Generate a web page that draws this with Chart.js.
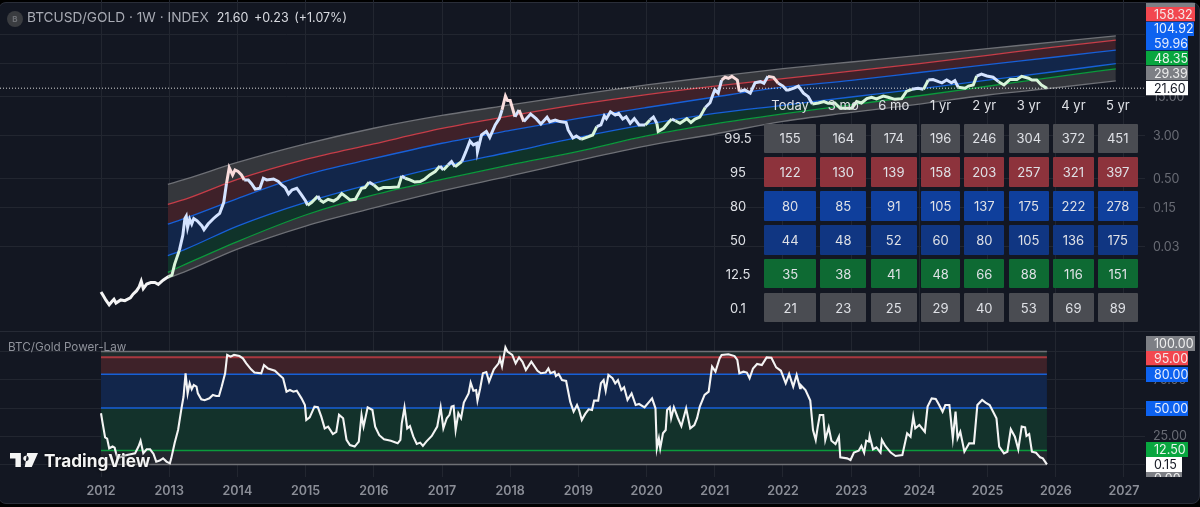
<!DOCTYPE html>
<html>
<head>
<meta charset="utf-8">
<title>BTCUSD/GOLD</title>
<script src="https://cdn.jsdelivr.net/npm/chart.js@4"></script>
<style>
    html, body { margin: 0; padding: 0; width: 1200px; height: 507px; background: #000; overflow: hidden; font-family: Inter, "Noto Sans", sans-serif; }
    #panel { position: absolute; left: -2px; top: 2px; width: 1200px; height: 500px; background: #131722; border: 1px solid #2a2e39; border-radius: 8px; }
    canvas { position: absolute; left: 0; }
    #priceChart { top: 0; }
    #oscChart { top: 331px; }
    #separator { position: absolute; left: 0; top: 331px; width: 1198px; height: 1px; background: #262a35; }
    #header { position: absolute; left: 7px; top: 8px; height: 18px; line-height: 18px; font-size: 13.7px; color: #a8abb4; white-space: nowrap; }
    #header .icon { display: inline-block; width: 16px; height: 16px; line-height: 16px; border-radius: 50%; background: #3a3c40; color: #6d6f74; font-size: 8px; font-weight: 700; text-align: center; margin-right: 4px; vertical-align: 0; }
    #header .last { color: #d8dae0; margin-left: 4px; font-size: 12.5px; word-spacing: 2px; }
    #oscTitle { position: absolute; left: 8px; top: 340px; font-size: 11.7px; color: #8f929b; }
    #logo { position: absolute; left: 10px; top: 451px; color: #f4f4f4; font-size: 17.2px; font-weight: 700; line-height: 20px; white-space: nowrap; text-shadow: 0 0 3px #000; }
    #logo svg { position: absolute; left: 0; top: 2px; }
    #logo span { position: absolute; left: 34px; top: 0; }
    #table { position: absolute; left: 716px; top: 91px; display: grid; grid-template-columns: 44px 51.7px 46px 46.4px 38.7px 40px 40.4px 40.4px 39.7px; grid-template-rows: 28px repeat(6, 29.4px); column-gap: 4.3px; row-gap: 4.5px; font-size: 13px; color: #dfe1e6; }
    #table div { display: flex; align-items: center; justify-content: center; border-radius: 1px; }
</style>
</head>
<body>
<div id="panel"></div>
<canvas id="priceChart" width="1200" height="331"></canvas>
<canvas id="oscChart" width="1200" height="176"></canvas>
<div id="separator"></div>
<div id="header"><span class="icon">B</span>BTCUSD/GOLD · 1W · INDEX <span class="last">21.60 +0.23 (+1.07%)</span></div>
<div id="oscTitle">BTC/Gold Power-Law</div>
<div id="logo">
    <svg width="28" height="14" viewBox="0 0 36 18"><path fill="#f4f4f4" d="M0 0h14v18H7V7H0zM22 0h14l-8 18h-9zM17 7a3.5 3.5 0 1 0 0-.01z"/></svg>
    <span>TradingView</span>
</div>
<div id="table"></div>

<script>
// years shown on the time axis
const yearTicks = [2012, 2013, 2014, 2015, 2016, 2017, 2018, 2019, 2020, 2021, 2022, 2023, 2024, 2025, 2026, 2027];

// power-law bands of the top pane
const bandYears = [2012.98, 2013.25, 2014, 2015, 2016, 2017, 2018, 2019, 2020, 2021, 2022, 2023, 2024, 2025, 2026, 2026.88];
const band995 = [0.40, 0.50, 0.99, 2.14, 4.10, 6.97, 10.8, 16.6, 24.7, 35, 48.5, 64, 84.5, 112, 148, 190];
const band95 = [0.174, 0.218, 0.49, 1.125, 2.14, 4.06, 6.83, 11, 16.6, 23.6, 32, 44, 60, 84.5, 120, 158.32];
const band80 = [0.0769, 0.0995, 0.222, 0.591, 1.17, 2.2, 3.74, 6.15, 9.7, 15, 22.5, 30, 41.4, 57.2, 78.8, 104.92];
const band50 = [0.0208, 0.0275, 0.0708, 0.19, 0.415, 0.84, 1.53, 2.8, 4.8, 7.57, 10.6, 15, 21, 30.3, 43.2, 59.96];
const band125 = [0.0104, 0.0147, 0.0372, 0.112, 0.258, 0.49, 0.895, 1.57, 2.98, 4.9, 7.42, 10.8, 15.8, 23.4, 34.7, 48.35];
const band01 = [0.0081, 0.0109, 0.0272, 0.0708, 0.15, 0.304, 0.567, 1.08, 1.97, 3.23, 5.45, 7.9, 11.2, 16.3, 22, 29.39];

// BTCUSD/GOLD weekly close
const priceYears = [
    2012.00, 2012.03, 2012.07, 2012.12, 2012.16, 2012.19, 2012.22, 2012.29, 2012.35, 2012.43, 2012.47, 2012.52, 2012.56, 2012.59, 2012.62, 2012.67, 2012.73, 2012.79, 2012.84, 2012.91, 2012.99,
    2013.04, 2013.08, 2013.15, 2013.20, 2013.23, 2013.25, 2013.27, 2013.30, 2013.33, 2013.36, 2013.41, 2013.48, 2013.51, 2013.57, 2013.65, 2013.69, 2013.74, 2013.80, 2013.84, 2013.88, 2013.93, 2013.965,
    2014.01, 2014.06, 2014.10, 2014.16, 2014.21, 2014.26, 2014.33, 2014.38, 2014.43, 2014.53, 2014.60, 2014.65, 2014.70, 2014.75, 2014.80, 2014.87, 2014.94,
    2015.00, 2015.03, 2015.09, 2015.18, 2015.21, 2015.26, 2015.33, 2015.41, 2015.47, 2015.53, 2015.59, 2015.65, 2015.73, 2015.82, 2015.87, 2015.93,
    2016.00, 2016.07, 2016.14, 2016.24, 2016.36, 2016.41, 2016.46, 2016.53, 2016.60, 2016.68, 2016.75, 2016.82, 2016.90, 2016.97,
    2017.02, 2017.09, 2017.14, 2017.19, 2017.29, 2017.35, 2017.41, 2017.46, 2017.51, 2017.52, 2017.58, 2017.65, 2017.70, 2017.78, 2017.84, 2017.88, 2017.93, 2017.96,
    2018.00, 2018.07, 2018.13, 2018.20, 2018.30, 2018.38, 2018.45, 2018.54, 2018.58, 2018.66, 2018.73, 2018.82, 2018.85, 2018.92, 2018.97,
    2019.04, 2019.15, 2019.21, 2019.27, 2019.33, 2019.38, 2019.41, 2019.47, 2019.54, 2019.59, 2019.65, 2019.70, 2019.76, 2019.82, 2019.89, 2019.98,
    2020.05, 2020.10, 2020.15, 2020.17, 2020.25, 2020.32, 2020.37, 2020.42, 2020.49, 2020.59, 2020.65, 2020.71, 2020.78, 2020.86, 2020.93, 2020.97,
    2021.00, 2021.05, 2021.10, 2021.15, 2021.20, 2021.25, 2021.33, 2021.36, 2021.44, 2021.52, 2021.59, 2021.67, 2021.72, 2021.78, 2021.86, 2021.93,
    2022.00, 2022.05, 2022.08, 2022.16, 2022.225, 2022.30, 2022.37, 2022.43, 2022.52, 2022.60, 2022.66, 2022.76, 2022.84,
    2023.01, 2023.08, 2023.15, 2023.23, 2023.30, 2023.37, 2023.47, 2023.54, 2023.64, 2023.74, 2023.81, 2023.89, 2023.98,
    2024.06, 2024.13, 2024.20, 2024.28, 2024.33, 2024.40, 2024.47, 2024.52, 2024.57, 2024.67, 2024.72, 2024.79, 2024.84, 2024.91, 2024.99,
    2025.08, 2025.16, 2025.24, 2025.33, 2025.43, 2025.50, 2025.60, 2025.65, 2025.72, 2025.79, 2025.87
];
const priceValues = [
    0.0046, 0.0040, 0.0033, 0.0027, 0.0031, 0.0034, 0.0029, 0.0033, 0.0032, 0.0036, 0.0042, 0.0048, 0.0057, 0.0072, 0.0053, 0.0064, 0.0068, 0.0068, 0.0063, 0.0075, 0.0087,
    0.0092, 0.0146, 0.0261, 0.0485, 0.097, 0.107, 0.067, 0.094, 0.077, 0.097, 0.088, 0.071, 0.061, 0.077, 0.097, 0.107, 0.12, 0.19, 0.415, 0.80, 0.59, 0.727,
    0.68, 0.59, 0.48, 0.48, 0.407, 0.327, 0.34, 0.515, 0.48, 0.50, 0.45, 0.39, 0.35, 0.27, 0.317, 0.34, 0.258,
    0.20, 0.168, 0.19, 0.247, 0.209, 0.19, 0.215, 0.20, 0.222, 0.272, 0.24, 0.209, 0.215, 0.34, 0.35, 0.44,
    0.39, 0.327, 0.35, 0.35, 0.36, 0.567, 0.515, 0.48, 0.44, 0.45, 0.50, 0.59, 0.68, 0.859,
    0.727, 0.895, 1.03, 0.83, 1.03, 1.55, 2.4, 2.05, 2.2, 1.55, 3.1, 3.6, 2.8, 4.7, 6.1, 8.76, 15.6, 12.9,
    12.9, 6.6, 8.76, 5.4, 7.4, 6.1, 4.9, 6.5, 5.4, 5.78, 5.4, 5.2, 3.82, 2.74, 2.98,
    2.6, 2.9, 3.1, 4.4, 4.7, 6.83, 6.1, 8.1, 7.1, 7.6, 6.0, 6.6, 5.05, 6.1, 4.7, 4.7,
    5.78, 6.5, 5.05, 3.6, 4.1, 5.2, 6.0, 5.6, 5.05, 6.1, 5.2, 6.0, 6.5, 9.7, 11.8, 16.3,
    20.1, 17.6, 30.3, 34, 32.6, 35.3, 30.3, 18.9, 20.1, 17.6, 27, 28.3, 26.5, 35.3, 34, 26.5,
    23.6, 20.1, 20.1, 21.6, 23.6, 17.6, 15.2, 11.2, 11.7, 12.4, 11.6, 11.7, 9.4,
    9.4, 12.4, 11.7, 14, 14.8, 13.8, 15.6, 14.8, 13.6, 14, 18.9, 20.6, 21.6,
    20.6, 30.3, 31, 28.3, 27, 30.3, 27, 29.5, 22.5, 21.6, 23.6, 24.7, 35.8, 38.9, 35.8,
    34, 28.3, 24.7, 31, 31, 35.3, 32.6, 30.3, 30.3, 24.7, 21.6
];

// percentile oscillator, lower pane
const oscYears = [
    2012.00, 2012.02, 2012.06, 2012.09, 2012.12, 2012.17, 2012.20, 2012.24, 2012.35, 2012.50, 2012.55, 2012.58, 2012.62, 2012.67, 2012.72, 2012.77, 2012.81, 2012.86, 2012.91, 2012.96,
    2013.01, 2013.03, 2013.08, 2013.13, 2013.18, 2013.21, 2013.24, 2013.27, 2013.30, 2013.33, 2013.36, 2013.40, 2013.42, 2013.47, 2013.52, 2013.59, 2013.64, 2013.69, 2013.73, 2013.77, 2013.82, 2013.85, 2013.90, 2013.95,
    2014.03, 2014.08, 2014.13, 2014.20, 2014.25, 2014.35, 2014.39, 2014.45, 2014.55, 2014.62, 2014.67, 2014.72, 2014.77, 2014.82, 2014.87, 2014.94, 2014.99,
    2015.01, 2015.06, 2015.13, 2015.18, 2015.23, 2015.28, 2015.33, 2015.40, 2015.45, 2015.49, 2015.55, 2015.60, 2015.65, 2015.72, 2015.78, 2015.82, 2015.85, 2015.91, 2015.98,
    2016.02, 2016.08, 2016.15, 2016.25, 2016.35, 2016.39, 2016.41, 2016.45, 2016.49, 2016.53, 2016.58, 2016.63, 2016.68, 2016.72, 2016.77, 2016.85, 2016.93, 2016.98,
    2017.02, 2017.07, 2017.11, 2017.14, 2017.17, 2017.20, 2017.24, 2017.28, 2017.32, 2017.39, 2017.42, 2017.46, 2017.50, 2017.52, 2017.56, 2017.60, 2017.65, 2017.69, 2017.76, 2017.83, 2017.85, 2017.88, 2017.93, 2017.96,
    2018.03, 2018.08, 2018.13, 2018.18, 2018.23, 2018.31, 2018.40, 2018.45, 2018.52, 2018.56, 2018.59, 2018.65, 2018.67, 2018.71, 2018.76, 2018.82, 2018.88, 2018.93, 2018.98,
    2019.01, 2019.05, 2019.10, 2019.15, 2019.20, 2019.23, 2019.29, 2019.33, 2019.37, 2019.40, 2019.44, 2019.50, 2019.54, 2019.58, 2019.63, 2019.67, 2019.72, 2019.78, 2019.84, 2019.89, 2019.97,
    2020.04, 2020.08, 2020.13, 2020.15, 2020.18, 2020.20, 2020.24, 2020.28, 2020.30, 2020.34, 2020.36, 2020.40, 2020.46, 2020.51, 2020.58, 2020.64, 2020.70, 2020.74, 2020.78, 2020.85, 2020.91, 2020.96,
    2021.01, 2021.07, 2021.10, 2021.20, 2021.29, 2021.33, 2021.36, 2021.42, 2021.47, 2021.51, 2021.56, 2021.62, 2021.69, 2021.76, 2021.83, 2021.90, 2021.97,
    2022.04, 2022.09, 2022.15, 2022.20, 2022.25, 2022.26, 2022.33, 2022.40, 2022.44, 2022.48, 2022.51, 2022.54, 2022.59, 2022.62, 2022.67, 2022.71, 2022.77, 2022.82, 2022.84, 2022.94, 2022.99,
    2023.04, 2023.11, 2023.15, 2023.19, 2023.22, 2023.26, 2023.27, 2023.32, 2023.37, 2023.43, 2023.45, 2023.50, 2023.58, 2023.65, 2023.75, 2023.82, 2023.87, 2023.91, 2023.94,
    2024.00, 2024.08, 2024.12, 2024.18, 2024.24, 2024.29, 2024.34, 2024.38, 2024.44, 2024.49, 2024.53, 2024.56, 2024.60, 2024.66, 2024.73, 2024.80, 2024.85, 2024.92, 2024.97,
    2025.03, 2025.13, 2025.17, 2025.24, 2025.29, 2025.34, 2025.40, 2025.45, 2025.50, 2025.55, 2025.57, 2025.61, 2025.65, 2025.71, 2025.77, 2025.81, 2025.87
];
const oscValues = [
    45.4, 38, 24, 23, 14.4, 16, 15, 5.5, 8, 10, 16, 21, 10, 13.5, 13.5, 9.4, 2.6, 3.5, 5.5, 2.6,
    1.1, 5.5, 19, 30.6, 49.8, 60, 80.8, 63, 72, 66.6, 70.4, 69, 63, 57.8, 57, 58.6, 61.6, 60.7, 60.7, 69, 80.8, 97, 95.5, 97,
    96, 94, 89.6, 84.3, 81.4, 80.8, 88, 85, 83, 79, 76.4, 64.5, 66, 64.5, 65.4, 58.6, 52.7,
    39.5, 41.8, 51.3, 50.7, 42.4, 32, 33.6, 27, 29, 44, 41, 21.8, 17.3, 15.9, 20.3, 43.9, 33.6, 50.7, 48.3,
    33.6, 26, 22.4, 21, 18.8, 21.8, 36.5, 50.7, 32, 34, 24.7, 18.2, 19.4, 16.5, 20.3, 25.3, 33.6, 50.7,
    32, 41, 44, 51.3, 51.9, 30.6, 45.4, 41, 54.8, 63, 72.5, 65.4, 66, 56.6, 67.5, 80.8, 81.9, 73.4, 84.3, 89.6, 94, 87, 103.7, 100,
    97, 89.6, 94.9, 91, 83.7, 91, 83, 80.8, 81.4, 85, 80.8, 82.2, 78.4, 80.1, 74.8, 74, 55.7, 46.8, 52.7,
    48.3, 39.5, 44.8, 48.9, 48.3, 56.6, 56.6, 71.9, 74.8, 65.4, 79.3, 76.4, 71.9, 74.8, 66, 68.4, 57.2, 63, 52.7, 53.6, 50.7,
    55.7, 58.6, 49.8, 14.4, 23.2, 14.4, 27.7, 30.6, 48.3, 50.7, 41, 50.7, 41, 34, 49.8, 32, 35, 41, 51.3, 61.6, 64.5, 86.7,
    82.2, 94, 97, 97.6, 96, 92.6, 80.8, 82.2, 81.4, 76.4, 85, 89, 88, 94.9, 94.6, 86, 83,
    71.9, 80.1, 69, 79.3, 67.5, 70.4, 66, 56.6, 30.6, 21.8, 33.6, 43.9, 43.9, 21.8, 32.9, 21.1, 18.2, 24.7, 6.4, 5.5, 4,
    10.6, 12.3, 16.5, 10.6, 21.2, 20.3, 25.3, 13.5, 15.3, 10.6, 21.8, 16.5, 10.6, 7.6, 8.5, 27.7, 24.7, 42.4, 32,
    35, 29, 51.3, 58.6, 58, 52.7, 46.8, 52.7, 52.7, 23.2, 46.8, 23.2, 29, 11.4, 18.8, 18.8, 52.7, 57.2, 54.8,
    52.7, 41, 15.8, 9.9, 11.4, 31.2, 24.7, 13.5, 33.6, 32.9, 25.3, 27, 11.4, 10.5, 6.4, 5.5, 0.15
];

// oscillator band levels
const oscLevels = [100, 95, 80, 50, 12.5, 0];
const oscBandYears = [2012, 2025.87];

// overlay table
const tableHorizons = ['Today', '3 mo', '6 mo', '1 yr', '2 yr', '3 yr', '4 yr', '5 yr'];
const tablePercentiles = ['99.5', '95', '80', '50', '12.5', '0.1'];
const tableRow995 = [155, 164, 174, 196, 246, 304, 372, 451];
const tableRow95 = [122, 130, 139, 158, 203, 257, 321, 397];
const tableRow80 = [80, 85, 91, 105, 137, 175, 222, 278];
const tableRow50 = [44, 48, 52, 60, 80, 105, 136, 175];
const tableRow125 = [35, 38, 41, 48, 66, 88, 116, 151];
const tableRow01 = [21, 23, 25, 29, 40, 53, 69, 89];

// axis labels
const priceTickValues = [0.03, 0.15, 0.5, 3, 15, 60, 200];
const priceTickLabels = ['0.03', '0.15', '0.50', '3.00', '15.00', '', ''];
const oscTickValues = [0, 25, 50, 75, 100];
const oscTickLabels = ['', '25.00', '', '75.00', ''];

// last value
const lastPrice = 21.6;

const GRID = '#222630';
const FONT = 'Inter, "Noto Sans", sans-serif';

const toPoints = (xs, ys) => xs.map((x, i) => ({ x, y: ys[i] }));

// band level at a given year, used only to tint the price line
function bandAt(band, x) {
    let i = 0;
    while (i < bandYears.length - 2 && bandYears[i + 1] < x) i++;
    const t = (x - bandYears[i]) / (bandYears[i + 1] - bandYears[i]);
    return Math.exp(Math.log(band[i]) * (1 - t) + Math.log(band[i + 1]) * t);
}

function priceTint(ctx) {
    const x = ctx.p0.parsed.x, y = ctx.p0.parsed.y;
    if (x < bandYears[0]) return '#f4f4f4';
    if (y > bandAt(band95, x)) return '#f9dcdc';
    if (y > bandAt(band50, x)) return '#d4e3ff';
    return '#d8f4da';
}

function bandDataset(points, color, fillColor, width) {
    return {
        data: points,
        borderColor: color,
        borderWidth: width,
        backgroundColor: fillColor,
        fill: fillColor ? '+1' : false,
        pointRadius: 0,
        cubicInterpolationMode: 'monotone'
    };
}

// coloured value tags on the price scale
function tagPlugin(tags) {
    return {
        id: 'tags',
        afterDraw(chart) {
            const c = chart.ctx;
            tags.forEach(t => {
                c.save();
                c.beginPath();
                c.rect(1146, t.top, t.right - 1146, t.bottom - t.top);
                c.clip();
                c.fillStyle = t.bg;
                c.fillRect(1146, t.top, t.right - 1146, t.bottom - t.top);
                c.fillStyle = t.color;
                c.font = '12.5px ' + FONT;
                c.textAlign = 'left';
                c.textBaseline = 'middle';
                c.fillText(t.text, 1154, t.mid || (t.top + t.bottom) / 2 + 0.5);
                c.restore();
            });
        }
    };
}

function xAxis(showLabels) {
    return {
        type: 'linear',
        min: 2010.519,
        max: 2027.308,
        grid: { color: c => (c.tick && c.tick.value >= 2012 ? GRID : 'transparent'), drawTicks: false },
        border: { display: false },
        afterBuildTicks: s => { s.ticks = yearTicks.map(value => ({ value })); },
        afterFit: s => { s.height = showLabels ? 30 : 0; s.paddingLeft = 0; s.paddingRight = 0; },
        ticks: {
            display: showLabels,
            autoSkip: false,
            maxRotation: 0,
            padding: 7,
            color: '#8b8e97',
            font: { family: FONT, size: 12.5, weight: '600' },
            callback: v => String(v)
        }
    };
}

function yAxisBase(tickValues, tickLabels) {
    return {
        position: 'right',
        bounds: 'data',
        grid: { color: GRID, drawTicks: false },
        border: { display: false },
        // the scale keeps its full height, tick labels must not shrink the plot
        afterFit: s => { s.width = 55; s.paddingTop = 0; s.paddingBottom = 0; },
        afterBuildTicks: s => { s.ticks = tickValues.map(value => ({ value })); },
        ticks: {
            autoSkip: false,
            padding: 8,
            color: '#686b74',
            font: { family: FONT, size: 12.5 },
            callback: v => tickLabels[tickValues.indexOf(v)] ?? ''
        }
    };
}

Chart.defaults.animation = false;
Chart.defaults.plugins.legend.display = false;
Chart.defaults.plugins.tooltip.enabled = false;
Chart.defaults.plugins.filler.drawTime = 'beforeDatasetsDraw';

// top pane
new Chart(document.getElementById('priceChart'), {
    type: 'line',
    data: {
        datasets: [
            bandDataset(toPoints(bandYears, band995), '#6e7076', '#35373c', 1.3),
            bandDataset(toPoints(bandYears, band95), '#c73d48', '#3f2129', 1.3),
            bandDataset(toPoints(bandYears, band80), '#1760d8', '#12264a', 1.3),
            bandDataset(toPoints(bandYears, band50), '#1760d8', '#10332a', 1.3),
            bandDataset(toPoints(bandYears, band125), '#0b9a3c', '#33353b', 1.3),
            bandDataset(toPoints(bandYears, band01), '#6e7076', null, 1.3),
            {
                data: toPoints([2010.519, 2027.308], [lastPrice, lastPrice]),
                borderColor: '#d8d8d8',
                borderWidth: 1,
                borderDash: [1, 2],
                pointRadius: 0,
                order: -1
            },
            {
                data: toPoints(priceYears, priceValues),
                borderColor: '#f4f4f4',
                borderWidth: 3,
                pointRadius: 0,
                segment: { borderColor: priceTint },
                order: -2
            }
        ]
    },
    options: {
        responsive: false,
        layout: { padding: 0 },
        scales: {
            x: xAxis(false),
            y: Object.assign(yAxisBase(priceTickValues, priceTickLabels), { type: 'logarithmic', min: 0.00091, max: 839 })
        }
    },
    plugins: [tagPlugin([
        { text: '', bg: '#7d7f85', color: '#fff', top: 3, bottom: 8, right: 1195 },
        { text: '158.32', bg: '#f2474f', color: '#f5e8e8', top: 7, bottom: 21.5, right: 1195 },
        { text: '104.92', bg: '#0d62f0', color: '#e8eefc', top: 21.5, bottom: 36, right: 1194 },
        { text: '59.96', bg: '#0d62f0', color: '#e8eefc', top: 36, bottom: 50.5, right: 1188 },
        { text: '48.35', bg: '#08a63f', color: '#e8f5ec', top: 51, bottom: 65.5, right: 1188 },
        { text: '29.39', bg: '#7d7f85', color: '#eeeeee', top: 66, bottom: 80.5, right: 1188 },
        { text: '21.60', bg: '#ffffff', color: '#131722', top: 81, bottom: 95.5, right: 1188 }
    ])]
});

// lower pane
const oscBands = oscLevels.map(level => toPoints(oscBandYears, oscBandYears.map(() => level)));

new Chart(document.getElementById('oscChart'), {
    type: 'line',
    data: {
        datasets: [
            bandDataset(oscBands[0], '#6f7176', '#1f2c2c', 1.4),
            bandDataset(oscBands[1], '#a8383f', '#3e2229', 2),
            bandDataset(oscBands[2], '#1760d8', '#12264b', 1.5),
            bandDataset(oscBands[3], '#1760d8', '#13322b', 1.5),
            bandDataset(oscBands[4], '#0b9a3c', '#23262e', 1.5),
            bandDataset(oscBands[5], '#6f7176', null, 1.4),
            {
                data: toPoints(oscYears, oscValues),
                borderColor: '#f4f4f4',
                borderWidth: 2.1,
                pointRadius: 0,
                order: -1
            }
        ]
    },
    options: {
        responsive: false,
        layout: { padding: 0 },
        scales: {
            x: xAxis(true),
            y: Object.assign(yAxisBase(oscTickValues, oscTickLabels), { type: 'linear', min: -11, max: 118.2 })
        }
    },
    plugins: [tagPlugin([
        { text: '100.00', bg: '#7d7f85', color: '#eeeeee', top: 5, bottom: 20, right: 1195 },
        { text: '95.00', bg: '#f2474f', color: '#f5e8e8', top: 20, bottom: 34.5, right: 1188 },
        { text: '80.00', bg: '#0d62f0', color: '#e8eefc', top: 36, bottom: 51, right: 1188 },
        { text: '50.00', bg: '#0d62f0', color: '#e8eefc', top: 70, bottom: 85, right: 1188 },
        { text: '12.50', bg: '#08a63f', color: '#e8f5ec', top: 111, bottom: 126, right: 1188 },
        { text: '0.15', bg: '#ffffff', color: '#131722', top: 126, bottom: 141, right: 1182 },
        { text: '0.00', bg: '#7d7f85', color: '#eeeeee', top: 141, bottom: 146, right: 1182, mid: 148 }
    ])]
});

// overlay table
const tableColors = ['#4a4c52', '#8d333c', '#0f3f9c', '#103682', '#0e6a33', '#4a4c52'];
const tableRows = [tableRow995, tableRow95, tableRow80, tableRow50, tableRow125, tableRow01];
const tableEl = document.getElementById('table');

function addCell(text, bg) {
    const cell = document.createElement('div');
    cell.textContent = text;
    if (bg) cell.style.background = bg;
    tableEl.appendChild(cell);
}

addCell('');
tableHorizons.forEach(h => addCell(h));
tableRows.forEach((row, r) => {
    addCell(tablePercentiles[r]);
    row.forEach(v => addCell(v, tableColors[r]));
});
</script>
</body>
</html>
